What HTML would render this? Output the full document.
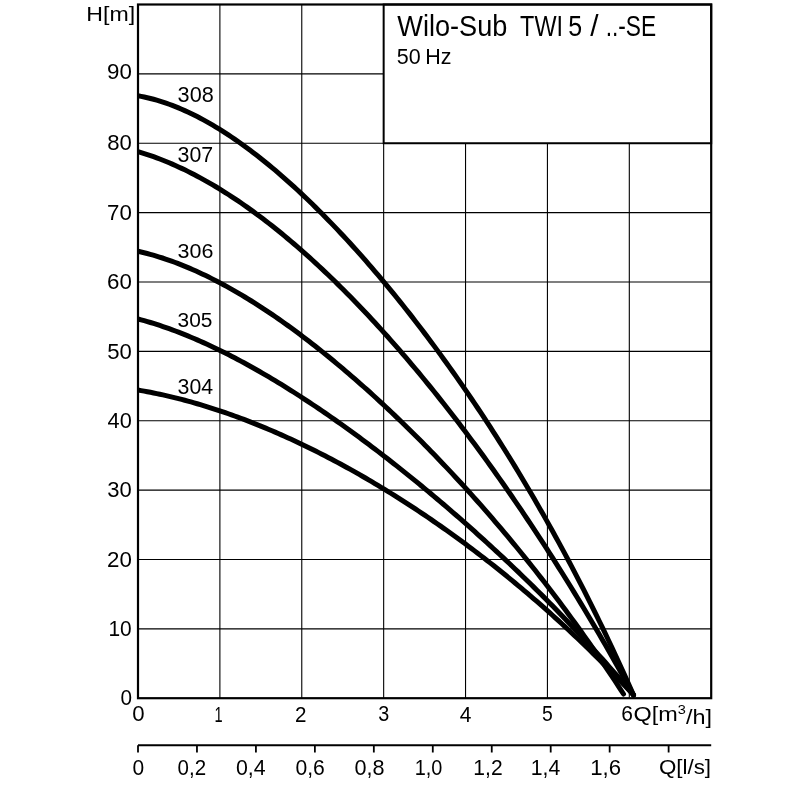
<!DOCTYPE html>
<html><head><meta charset="utf-8"><style>
html,body{margin:0;padding:0;background:#fff;width:800px;height:800px;overflow:hidden}
svg{display:block;will-change:transform}
text{font-family:"Liberation Sans",sans-serif;fill:#000}
.g{stroke:#000;stroke-width:1.1}
.c{fill:none;stroke:#000;stroke-width:5.0;stroke-linecap:round;stroke-linejoin:round}
</style></head><body>
<svg width="800" height="800" viewBox="0 0 800 800">
<line x1="219.89" y1="4.5" x2="219.89" y2="698.2" class="g"/>
<line x1="301.77" y1="4.5" x2="301.77" y2="698.2" class="g"/>
<line x1="383.66" y1="4.5" x2="383.66" y2="698.2" class="g"/>
<line x1="465.54" y1="4.5" x2="465.54" y2="698.2" class="g"/>
<line x1="547.43" y1="4.5" x2="547.43" y2="698.2" class="g"/>
<line x1="629.31" y1="4.5" x2="629.31" y2="698.2" class="g"/>
<line x1="138.0" y1="628.83" x2="711.2" y2="628.83" class="g"/>
<line x1="138.0" y1="559.46" x2="711.2" y2="559.46" class="g"/>
<line x1="138.0" y1="490.09" x2="711.2" y2="490.09" class="g"/>
<line x1="138.0" y1="420.72" x2="711.2" y2="420.72" class="g"/>
<line x1="138.0" y1="351.35" x2="711.2" y2="351.35" class="g"/>
<line x1="138.0" y1="281.98" x2="711.2" y2="281.98" class="g"/>
<line x1="138.0" y1="212.61" x2="711.2" y2="212.61" class="g"/>
<line x1="138.0" y1="143.24" x2="711.2" y2="143.24" class="g"/>
<line x1="138.0" y1="73.87" x2="711.2" y2="73.87" class="g"/>
<rect x="383.66" y="4.5" width="327.54" height="138.74" fill="#fff" stroke="#000" stroke-width="2"/>
<rect x="138.0" y="4.5" width="573.2" height="693.7" fill="none" stroke="#000" stroke-width="2.2"/>
<clipPath id="cp"><rect x="137.5" y="0" width="700" height="800"/></clipPath>
<g clip-path="url(#cp)">
<path d="M138.00,95.79 L141.12,96.37 L144.23,97.01 L147.35,97.71 L150.47,98.47 L153.58,99.29 L156.70,100.17 L159.81,101.11 L162.93,102.10 L166.05,103.15 L169.16,104.26 L172.28,105.42 L175.40,106.63 L178.51,107.90 L181.63,109.22 L184.75,110.59 L187.86,112.02 L190.98,113.49 L194.09,115.02 L197.21,116.59 L200.33,118.21 L203.44,119.88 L206.56,121.60 L209.68,123.37 L212.79,125.18 L215.91,127.03 L219.03,128.93 L222.14,130.88 L225.26,132.87 L228.37,134.90 L231.49,136.97 L234.61,139.09 L237.72,141.25 L240.84,143.44 L243.96,145.68 L247.07,147.96 L250.19,150.28 L253.31,152.64 L256.42,155.03 L259.54,157.47 L262.65,159.94 L265.77,162.45 L268.89,165.00 L272.00,167.58 L275.12,170.20 L278.24,172.85 L281.35,175.54 L284.47,178.27 L287.58,181.03 L290.70,183.82 L293.82,186.65 L296.93,189.51 L300.05,192.40 L303.17,195.33 L306.28,198.29 L309.40,201.28 L312.52,204.31 L315.63,207.36 L318.75,210.45 L321.86,213.57 L324.98,216.72 L328.10,219.91 L331.21,223.12 L334.33,226.36 L337.45,229.64 L340.56,232.94 L343.68,236.28 L346.80,239.64 L349.91,243.04 L353.03,246.46 L356.14,249.92 L359.26,253.40 L362.38,256.92 L365.49,260.46 L368.61,264.03 L371.73,267.64 L374.84,271.27 L377.96,274.93 L381.08,278.62 L384.19,282.34 L387.31,286.09 L390.42,289.87 L393.54,293.67 L396.66,297.51 L399.77,301.38 L402.89,305.27 L406.01,309.20 L409.12,313.16 L412.24,317.14 L415.36,321.16 L418.47,325.20 L421.59,329.28 L424.70,333.38 L427.82,337.52 L430.94,341.68 L434.05,345.88 L437.17,350.11 L440.29,354.37 L443.40,358.66 L446.52,362.98 L449.64,367.34 L452.75,371.72 L455.87,376.14 L458.98,380.59 L462.10,385.08 L465.22,389.59 L468.33,394.14 L471.45,398.73 L474.57,403.35 L477.68,408.00 L480.80,412.69 L483.92,417.41 L487.03,422.17 L490.15,426.96 L493.26,431.79 L496.38,436.66 L499.50,441.56 L502.61,446.50 L505.73,451.48 L508.85,456.50 L511.96,461.55 L515.08,466.65 L518.19,471.78 L521.31,476.96 L524.43,482.17 L527.54,487.43 L530.66,492.73 L533.78,498.07 L536.89,503.45 L540.01,508.88 L543.13,514.35 L546.24,519.86 L549.36,525.42 L552.47,531.03 L555.59,536.68 L558.71,542.38 L561.82,548.12 L564.94,553.92 L568.06,559.76 L571.17,565.65 L574.29,571.60 L577.41,577.59 L580.52,583.63 L583.64,589.73 L586.75,595.88 L589.87,602.08 L592.99,608.34 L596.10,614.65 L599.22,621.02 L602.34,627.45 L605.45,633.93 L608.57,640.47 L611.69,647.07 L614.80,653.73 L617.92,660.45 L621.03,667.24 L624.15,674.08 L627.27,680.99 L630.38,687.96 L633.50,695.00" class="c"/>
<path d="M138.00,151.65 L141.12,152.58 L144.23,153.55 L147.35,154.56 L150.47,155.62 L153.58,156.71 L156.70,157.85 L159.81,159.02 L162.93,160.24 L166.05,161.50 L169.16,162.79 L172.28,164.13 L175.40,165.50 L178.51,166.91 L181.63,168.37 L184.75,169.85 L187.86,171.38 L190.98,172.94 L194.09,174.54 L197.21,176.18 L200.33,177.86 L203.44,179.57 L206.56,181.31 L209.68,183.09 L212.79,184.91 L215.91,186.76 L219.03,188.65 L222.14,190.57 L225.26,192.52 L228.37,194.51 L231.49,196.54 L234.61,198.59 L237.72,200.68 L240.84,202.80 L243.96,204.96 L247.07,207.15 L250.19,209.37 L253.31,211.62 L256.42,213.91 L259.54,216.22 L262.65,218.57 L265.77,220.95 L268.89,223.36 L272.00,225.80 L275.12,228.27 L278.24,230.77 L281.35,233.30 L284.47,235.86 L287.58,238.46 L290.70,241.08 L293.82,243.73 L296.93,246.41 L300.05,249.12 L303.17,251.86 L306.28,254.63 L309.40,257.42 L312.52,260.25 L315.63,263.10 L318.75,265.98 L321.86,268.89 L324.98,271.83 L328.10,274.80 L331.21,277.79 L334.33,280.81 L337.45,283.86 L340.56,286.93 L343.68,290.04 L346.80,293.17 L349.91,296.32 L353.03,299.51 L356.14,302.72 L359.26,305.96 L362.38,309.22 L365.49,312.51 L368.61,315.83 L371.73,319.18 L374.84,322.55 L377.96,325.94 L381.08,329.37 L384.19,332.82 L387.31,336.29 L390.42,339.79 L393.54,343.32 L396.66,346.87 L399.77,350.45 L402.89,354.06 L406.01,357.69 L409.12,361.35 L412.24,365.03 L415.36,368.74 L418.47,372.47 L421.59,376.23 L424.70,380.02 L427.82,383.83 L430.94,387.66 L434.05,391.53 L437.17,395.41 L440.29,399.33 L443.40,403.27 L446.52,407.23 L449.64,411.22 L452.75,415.24 L455.87,419.28 L458.98,423.35 L462.10,427.45 L465.22,431.57 L468.33,435.71 L471.45,439.88 L474.57,444.08 L477.68,448.30 L480.80,452.55 L483.92,456.83 L487.03,461.13 L490.15,465.46 L493.26,469.82 L496.38,474.20 L499.50,478.61 L502.61,483.04 L505.73,487.50 L508.85,491.99 L511.96,496.51 L515.08,501.05 L518.19,505.62 L521.31,510.22 L524.43,514.84 L527.54,519.49 L530.66,524.17 L533.78,528.88 L536.89,533.61 L540.01,538.37 L543.13,543.16 L546.24,547.98 L549.36,552.83 L552.47,557.70 L555.59,562.61 L558.71,567.54 L561.82,572.50 L564.94,577.49 L568.06,582.51 L571.17,587.56 L574.29,592.64 L577.41,597.75 L580.52,602.89 L583.64,608.06 L586.75,613.26 L589.87,618.49 L592.99,623.75 L596.10,629.04 L599.22,634.36 L602.34,639.71 L605.45,645.10 L608.57,650.52 L611.69,655.96 L614.80,661.45 L617.92,666.96 L621.03,672.51 L624.15,678.08 L627.27,683.70 L630.38,689.34 L633.50,695.02" class="c"/>
<path d="M138.00,251.29 L141.05,251.99 L144.11,252.73 L147.16,253.51 L150.21,254.33 L153.27,255.19 L156.32,256.09 L159.37,257.03 L162.43,258.00 L165.48,259.02 L168.53,260.06 L171.59,261.15 L174.64,262.27 L177.69,263.43 L180.75,264.62 L183.80,265.85 L186.86,267.11 L189.91,268.40 L192.96,269.73 L196.02,271.09 L199.07,272.48 L202.12,273.90 L205.18,275.36 L208.23,276.85 L211.28,278.37 L214.34,279.91 L217.39,281.49 L220.44,283.10 L223.50,284.74 L226.55,286.41 L229.60,288.10 L232.66,289.83 L235.71,291.58 L238.76,293.36 L241.82,295.17 L244.87,297.00 L247.92,298.87 L250.98,300.75 L254.03,302.67 L257.08,304.61 L260.14,306.58 L263.19,308.57 L266.25,310.58 L269.30,312.62 L272.35,314.69 L275.41,316.78 L278.46,318.89 L281.51,321.03 L284.57,323.19 L287.62,325.37 L290.67,327.58 L293.73,329.81 L296.78,332.07 L299.83,334.34 L302.89,336.64 L305.94,338.96 L308.99,341.30 L312.05,343.66 L315.10,346.05 L318.15,348.45 L321.21,350.88 L324.26,353.33 L327.31,355.80 L330.37,358.29 L333.42,360.80 L336.47,363.33 L339.53,365.88 L342.58,368.45 L345.64,371.04 L348.69,373.65 L351.74,376.28 L354.80,378.93 L357.85,381.60 L360.90,384.29 L363.96,387.00 L367.01,389.73 L370.06,392.48 L373.12,395.24 L376.17,398.03 L379.22,400.84 L382.28,403.66 L385.33,406.50 L388.38,409.37 L391.44,412.25 L394.49,415.15 L397.54,418.07 L400.60,421.01 L403.65,423.97 L406.70,426.94 L409.76,429.94 L412.81,432.95 L415.86,435.99 L418.92,439.04 L421.97,442.11 L425.03,445.20 L428.08,448.31 L431.13,451.44 L434.19,454.59 L437.24,457.76 L440.29,460.95 L443.35,464.15 L446.40,467.38 L449.45,470.63 L452.51,473.89 L455.56,477.18 L458.61,480.48 L461.67,483.81 L464.72,487.15 L467.77,490.52 L470.83,493.91 L473.88,497.32 L476.93,500.74 L479.99,504.19 L483.04,507.66 L486.09,511.15 L489.15,514.67 L492.20,518.20 L495.25,521.76 L498.31,525.33 L501.36,528.93 L504.42,532.56 L507.47,536.20 L510.52,539.87 L513.58,543.56 L516.63,547.27 L519.68,551.01 L522.74,554.77 L525.79,558.56 L528.84,562.36 L531.90,566.20 L534.95,570.05 L538.00,573.94 L541.06,577.84 L544.11,581.78 L547.16,585.74 L550.22,589.72 L553.27,593.73 L556.32,597.77 L559.38,601.83 L562.43,605.93 L565.48,610.04 L568.54,614.19 L571.59,618.37 L574.64,622.57 L577.70,626.80 L580.75,631.06 L583.81,635.36 L586.86,639.68 L589.91,644.03 L592.97,648.41 L596.02,652.82 L599.07,657.27 L602.13,661.75 L605.18,666.25 L608.23,670.79 L611.29,675.37 L614.34,679.98 L617.39,684.62 L620.45,689.29 L623.50,694.01" class="c"/>
<path d="M138.00,318.97 L141.12,319.80 L144.23,320.67 L147.35,321.57 L150.47,322.50 L153.58,323.46 L156.70,324.45 L159.81,325.47 L162.93,326.52 L166.05,327.60 L169.16,328.70 L172.28,329.84 L175.40,331.00 L178.51,332.18 L181.63,333.40 L184.75,334.64 L187.86,335.91 L190.98,337.20 L194.09,338.52 L197.21,339.86 L200.33,341.23 L203.44,342.62 L206.56,344.04 L209.68,345.48 L212.79,346.94 L215.91,348.43 L219.03,349.94 L222.14,351.47 L225.26,353.02 L228.37,354.60 L231.49,356.19 L234.61,357.81 L237.72,359.45 L240.84,361.11 L243.96,362.79 L247.07,364.49 L250.19,366.21 L253.31,367.95 L256.42,369.71 L259.54,371.49 L262.65,373.29 L265.77,375.11 L268.89,376.94 L272.00,378.80 L275.12,380.67 L278.24,382.56 L281.35,384.46 L284.47,386.39 L287.58,388.33 L290.70,390.29 L293.82,392.26 L296.93,394.26 L300.05,396.26 L303.17,398.29 L306.28,400.33 L309.40,402.39 L312.52,404.46 L315.63,406.55 L318.75,408.65 L321.86,410.77 L324.98,412.90 L328.10,415.05 L331.21,417.22 L334.33,419.39 L337.45,421.59 L340.56,423.80 L343.68,426.02 L346.80,428.25 L349.91,430.50 L353.03,432.77 L356.14,435.05 L359.26,437.34 L362.38,439.65 L365.49,441.97 L368.61,444.30 L371.73,446.65 L374.84,449.01 L377.96,451.38 L381.08,453.77 L384.19,456.17 L387.31,458.58 L390.42,461.01 L393.54,463.45 L396.66,465.90 L399.77,468.37 L402.89,470.85 L406.01,473.34 L409.12,475.84 L412.24,478.36 L415.36,480.89 L418.47,483.44 L421.59,486.00 L424.70,488.57 L427.82,491.15 L430.94,493.74 L434.05,496.35 L437.17,498.98 L440.29,501.61 L443.40,504.26 L446.52,506.92 L449.64,509.60 L452.75,512.28 L455.87,514.99 L458.98,517.70 L462.10,520.43 L465.22,523.17 L468.33,525.93 L471.45,528.69 L474.57,531.48 L477.68,534.27 L480.80,537.08 L483.92,539.91 L487.03,542.75 L490.15,545.60 L493.26,548.47 L496.38,551.35 L499.50,554.24 L502.61,557.15 L505.73,560.08 L508.85,563.02 L511.96,565.98 L515.08,568.95 L518.19,571.93 L521.31,574.93 L524.43,577.95 L527.54,580.98 L530.66,584.03 L533.78,587.10 L536.89,590.18 L540.01,593.28 L543.13,596.39 L546.24,599.52 L549.36,602.67 L552.47,605.84 L555.59,609.02 L558.71,612.22 L561.82,615.44 L564.94,618.68 L568.06,621.94 L571.17,625.21 L574.29,628.51 L577.41,631.82 L580.52,635.15 L583.64,638.50 L586.75,641.87 L589.87,645.26 L592.99,648.67 L596.10,652.11 L599.22,655.56 L602.34,659.03 L605.45,662.53 L608.57,666.05 L611.69,669.59 L614.80,673.15 L617.92,676.73 L621.03,680.34 L624.15,683.97 L627.27,687.62 L630.38,691.30 L633.50,695.00" class="c"/>
<path d="M138.00,390.08 L141.12,390.61 L144.23,391.16 L147.35,391.74 L150.47,392.33 L153.58,392.95 L156.70,393.59 L159.81,394.24 L162.93,394.92 L166.05,395.62 L169.16,396.35 L172.28,397.09 L175.40,397.85 L178.51,398.63 L181.63,399.43 L184.75,400.25 L187.86,401.09 L190.98,401.95 L194.09,402.83 L197.21,403.73 L200.33,404.65 L203.44,405.59 L206.56,406.55 L209.68,407.52 L212.79,408.51 L215.91,409.53 L219.03,410.56 L222.14,411.60 L225.26,412.67 L228.37,413.76 L231.49,414.86 L234.61,415.98 L237.72,417.12 L240.84,418.27 L243.96,419.45 L247.07,420.64 L250.19,421.84 L253.31,423.07 L256.42,424.31 L259.54,425.57 L262.65,426.85 L265.77,428.14 L268.89,429.45 L272.00,430.78 L275.12,432.12 L278.24,433.48 L281.35,434.85 L284.47,436.25 L287.58,437.66 L290.70,439.08 L293.82,440.52 L296.93,441.98 L300.05,443.45 L303.17,444.94 L306.28,446.45 L309.40,447.97 L312.52,449.51 L315.63,451.06 L318.75,452.63 L321.86,454.21 L324.98,455.81 L328.10,457.43 L331.21,459.06 L334.33,460.71 L337.45,462.37 L340.56,464.05 L343.68,465.74 L346.80,467.45 L349.91,469.18 L353.03,470.92 L356.14,472.67 L359.26,474.44 L362.38,476.23 L365.49,478.03 L368.61,479.85 L371.73,481.68 L374.84,483.53 L377.96,485.39 L381.08,487.27 L384.19,489.16 L387.31,491.07 L390.42,493.00 L393.54,494.94 L396.66,496.89 L399.77,498.86 L402.89,500.85 L406.01,502.85 L409.12,504.87 L412.24,506.90 L415.36,508.95 L418.47,511.01 L421.59,513.09 L424.70,515.19 L427.82,517.30 L430.94,519.42 L434.05,521.57 L437.17,523.72 L440.29,525.90 L443.40,528.09 L446.52,530.29 L449.64,532.51 L452.75,534.75 L455.87,537.00 L458.98,539.27 L462.10,541.56 L465.22,543.86 L468.33,546.18 L471.45,548.51 L474.57,550.87 L477.68,553.23 L480.80,555.62 L483.92,558.02 L487.03,560.44 L490.15,562.87 L493.26,565.32 L496.38,567.79 L499.50,570.28 L502.61,572.78 L505.73,575.30 L508.85,577.84 L511.96,580.39 L515.08,582.97 L518.19,585.56 L521.31,588.17 L524.43,590.79 L527.54,593.44 L530.66,596.10 L533.78,598.78 L536.89,601.48 L540.01,604.20 L543.13,606.93 L546.24,609.69 L549.36,612.46 L552.47,615.25 L555.59,618.06 L558.71,620.90 L561.82,623.75 L564.94,626.62 L568.06,629.51 L571.17,632.41 L574.29,635.34 L577.41,638.29 L580.52,641.26 L583.64,644.25 L586.75,647.26 L589.87,650.29 L592.99,653.35 L596.10,656.42 L599.22,659.51 L602.34,662.63 L605.45,665.77 L608.57,668.93 L611.69,672.11 L614.80,675.31 L617.92,678.53 L621.03,681.78 L624.15,685.05 L627.27,688.34 L630.38,691.66 L633.50,695.00" class="c"/>
</g>
<line x1="138.0" y1="745.3" x2="711.2" y2="745.3" stroke="#000" stroke-width="2"/>
<line x1="138.00" y1="745.3" x2="138.00" y2="752.5" stroke="#000" stroke-width="1.8"/>
<line x1="196.96" y1="745.3" x2="196.96" y2="752.5" stroke="#000" stroke-width="1.8"/>
<line x1="255.92" y1="745.3" x2="255.92" y2="752.5" stroke="#000" stroke-width="1.8"/>
<line x1="314.87" y1="745.3" x2="314.87" y2="752.5" stroke="#000" stroke-width="1.8"/>
<line x1="373.83" y1="745.3" x2="373.83" y2="752.5" stroke="#000" stroke-width="1.8"/>
<line x1="432.79" y1="745.3" x2="432.79" y2="752.5" stroke="#000" stroke-width="1.8"/>
<line x1="491.75" y1="745.3" x2="491.75" y2="752.5" stroke="#000" stroke-width="1.8"/>
<line x1="550.70" y1="745.3" x2="550.70" y2="752.5" stroke="#000" stroke-width="1.8"/>
<line x1="609.66" y1="745.3" x2="609.66" y2="752.5" stroke="#000" stroke-width="1.8"/>
<line x1="668.62" y1="745.3" x2="668.62" y2="752.5" stroke="#000" stroke-width="1.8"/>
<text transform="translate(106.985,79.079) scale(1.1146,1.0832)" font-size="20">90</text>
<text transform="translate(107.131,150.329) scale(1.1079,1.0832)" font-size="20">80</text>
<text transform="translate(106.985,219.879) scale(1.1146,1.0832)" font-size="20">70</text>
<text transform="translate(106.985,289.229) scale(1.1146,1.0832)" font-size="20">60</text>
<text transform="translate(107.131,358.679) scale(1.1079,1.0832)" font-size="20">50</text>
<text transform="translate(107.556,428.329) scale(1.0881,1.0832)" font-size="20">40</text>
<text transform="translate(107.274,497.479) scale(1.1012,1.0832)" font-size="20">30</text>
<text transform="translate(106.985,567.229) scale(1.1146,1.0832)" font-size="20">20</text>
<text transform="translate(108.429,636.329) scale(1.0475,1.0832)" font-size="20">10</text>
<text transform="translate(120.521,705.479) scale(1.0390,1.0832)" font-size="20">0</text>
<text transform="translate(132.266,721.327) scale(1.1117,1.0903)" font-size="20">0</text>
<text transform="translate(214.404,721.600) scale(0.7304,1.1200)" font-size="20">1</text>
<text transform="translate(295.020,721.600) scale(1.0301,1.1099)" font-size="20">2</text>
<text transform="translate(378.308,721.327) scale(0.9895,1.0903)" font-size="20">3</text>
<text transform="translate(459.625,721.600) scale(1.0500,1.1200)" font-size="20">4</text>
<text transform="translate(541.951,721.325) scale(0.9707,1.1000)" font-size="20">5</text>
<text transform="translate(621.151,721.327) scale(1.0486,1.0903)" font-size="20">6</text>
<text transform="translate(633.528,720.603) scale(1.1721,0.9933)" font-size="20">Q[m<tspan font-size="0.62em" dy="-0.5em">3</tspan><tspan dy="0.5em">/h]</tspan></text>
<text transform="translate(132.413,775.432) scale(1.0494,1.0726)" font-size="20">0</text>
<text transform="translate(177.530,775.432) scale(1.0269,1.0726)" font-size="20">0,2</text>
<text transform="translate(235.899,775.432) scale(1.0679,1.0726)" font-size="20">0,4</text>
<text transform="translate(295.508,775.432) scale(1.0565,1.0726)" font-size="20">0,6</text>
<text transform="translate(354.388,775.432) scale(1.0833,1.0726)" font-size="20">0,8</text>
<text transform="translate(414.706,775.432) scale(0.9961,1.0726)" font-size="20">1,0</text>
<text transform="translate(473.320,775.432) scale(1.0535,1.0726)" font-size="20">1,2</text>
<text transform="translate(530.710,775.432) scale(1.0602,1.0726)" font-size="20">1,4</text>
<text transform="translate(590.239,775.432) scale(1.1074,1.0726)" font-size="20">1,6</text>
<text transform="translate(658.881,774.070) scale(1.1186,1.0255)" font-size="20">Q[l/s]</text>
<text transform="translate(177.587,102.235) scale(1.0835,1.0619)" font-size="20">308</text>
<text transform="translate(177.598,161.628) scale(1.0688,1.0867)" font-size="20">307</text>
<text transform="translate(177.594,258.240) scale(1.0740,1.0407)" font-size="20">306</text>
<text transform="translate(177.616,327.240) scale(1.0457,1.0407)" font-size="20">305</text>
<text transform="translate(177.601,393.935) scale(1.0656,1.0619)" font-size="20">304</text>
<text transform="translate(86.321,20.903) scale(1.1565,1.0174)" font-size="20">H[m]</text>
<text transform="translate(397.330,35.600) scale(1.3566,1.4618)" font-size="20">Wilo-Sub</text>
<text transform="translate(520.115,35.600) scale(1.1708,1.4618)" font-size="20">TWI</text>
<text transform="translate(568.208,35.600) scale(1.2480,1.4618)" font-size="20">5</text>
<text transform="translate(590.300,35.600) scale(1.4909,1.4618)" font-size="20">/</text>
<text transform="translate(605.671,35.600) scale(1.1353,1.4618)" font-size="20">..-SE</text>
<text transform="translate(396.758,63.921) scale(1.0764,1.1143)" font-size="20">50</text>
<text transform="translate(425.254,63.921) scale(1.0743,1.1143)" font-size="20">Hz</text>
</svg>
</body></html>
